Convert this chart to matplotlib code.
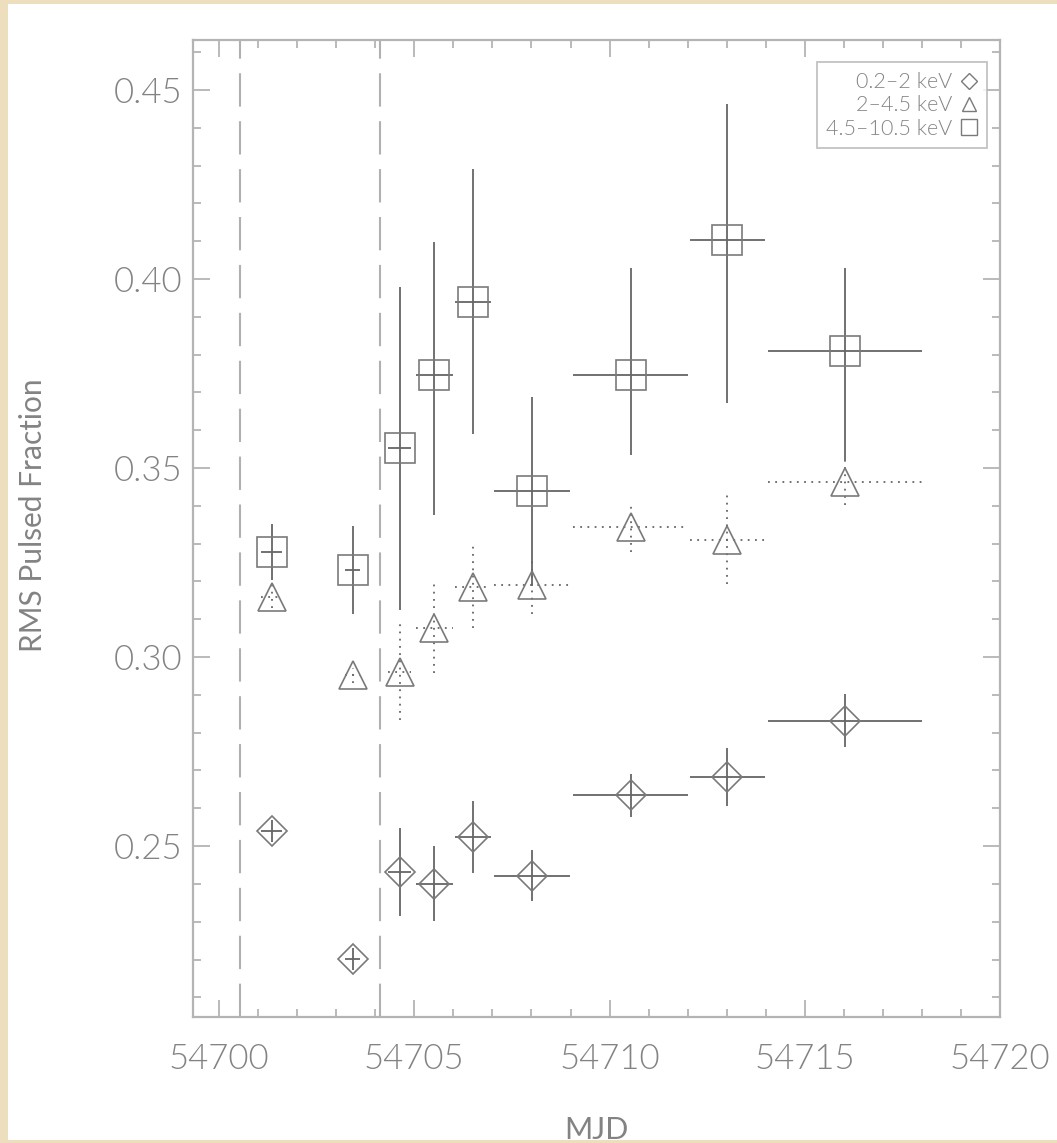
import matplotlib
matplotlib.use("Agg")
import matplotlib.pyplot as plt
from matplotlib.lines import Line2D
from matplotlib.patches import Rectangle

# ---- data ----
mjd = [54701.35, 54703.42, 54704.62, 54705.51, 54706.50, 54708.02, 54710.54, 54713.02, 54716.03]
mjd_err = [0.27, 0.20, 0.30, 0.47, 0.47, 0.97, 1.47, 0.95, 1.97]

pf_soft = [0.2540, 0.2201, 0.2432, 0.2401, 0.2525, 0.2422, 0.2635, 0.2682, 0.2832]
pf_soft_err = [0.0030, 0.0030, 0.0117, 0.0099, 0.0095, 0.0067, 0.0057, 0.0077, 0.0071]

pf_mid = [0.3160, 0.2952, 0.2961, 0.3076, 0.3186, 0.3190, 0.3343, 0.3310, 0.3462]
pf_mid_err = [0.0030, 0.0020, 0.0128, 0.0119, 0.0108, 0.0075, 0.0064, 0.0118, 0.0060]

pf_hard = [0.3278, 0.3230, 0.3553, 0.3746, 0.3940, 0.3438, 0.3746, 0.4104, 0.3810]
pf_hard_err_lo = [0.0074, 0.0116, 0.0428, 0.0370, 0.0350, 0.0250, 0.0212, 0.0433, 0.0288]
pf_hard_err_hi = [0.0074, 0.0116, 0.0426, 0.0352, 0.0352, 0.0250, 0.0283, 0.0360, 0.0220]

vlines_mjd = [54700.54, 54704.13]

band_labels = ["0.2\u20132 keV", "2\u20134.5 keV", "4.5\u201310.5 keV"]
xtick_vals = [54700, 54705, 54710, 54715, 54720]
xtick_labels = ["54700", "54705", "54710", "54715", "54720"]
ytick_vals = [0.25, 0.30, 0.35, 0.40, 0.45]
ytick_labels = ["0.25", "0.30", "0.35", "0.40", "0.45"]

# ---- style ----
FONT = ["Lato", "DejaVu Sans"]
TXT = "#838383"
AX = "#b4b4b4"
MK = "#7a7a7a"
EB = "#666666"

plt.rcParams["font.family"] = FONT
plt.rcParams["font.weight"] = 300

fig = plt.figure(figsize=(10.57, 11.43), dpi=100)
fig.patch.set_facecolor("#eddfbd")
bg = Rectangle((8 / 1057, 3 / 1143), 1 - 8 / 1057, 1 - 7 / 1143,
               transform=fig.transFigure, facecolor="white",
               edgecolor="none", zorder=-10)
fig.patches.append(bg)

ax = fig.add_axes([193 / 1057, 1 - 1017 / 1143, 807 / 1057, 977 / 1143])
ax.set_zorder(1)
ax.set_facecolor("white")
ax.set_xlim(54699.33, 54720.0)
ax.set_ylim(0.2048, 0.4632)

for v in vlines_mjd:
    ax.axvline(v, color="#b0b0b0", lw=1.5, dashes=(16, 7), zorder=1)

def draw(y, yerr, marker, ms, ls):
    c = ax.errorbar(mjd, y, xerr=mjd_err, yerr=yerr, fmt="none", ecolor=EB,
                    elinewidth=1.3, capsize=0, zorder=3)
    for lc in c.lines[2]:
        lc.set_linestyle(ls)
    ax.plot(mjd, y, linestyle="none", marker=marker, ms=ms, mfc="none",
            mec=MK, mew=1.2, zorder=4)

draw(pf_soft, pf_soft_err, "D", 14.8, "-")
draw(pf_mid, pf_mid_err, "^", 20, (0, (1, 3)))
draw(pf_hard, [pf_hard_err_lo, pf_hard_err_hi], "s", 21, "-")

for s in ax.spines.values():
    s.set_color(AX)
    s.set_linewidth(1.6)
ax.set_xticks(xtick_vals)
ax.set_xticklabels(xtick_labels)
ax.set_yticks(ytick_vals)
ax.set_yticklabels(ytick_labels)
ax.set_xticks([x for x in range(54700, 54721) if x % 5], minor=True)
ax.set_yticks([0.21, 0.22, 0.23, 0.24, 0.26, 0.27, 0.28, 0.29, 0.31, 0.32, 0.33,
               0.34, 0.36, 0.37, 0.38, 0.39, 0.41, 0.42, 0.43, 0.44, 0.46], minor=True)
ax.tick_params(which="both", direction="in", top=True, right=True, color=AX,
               width=1.3, labelcolor=TXT, labelsize=25)
ax.tick_params(which="major", length=12)
ax.tick_params(which="minor", length=6)
ax.tick_params(axis="x", pad=19)
ax.tick_params(axis="y", pad=8)

ax.set_xlabel("MJD", fontsize=22, color=TXT)
ax.xaxis.set_label_coords(0.5, -0.1157)
ax.xaxis.label.set_va("center")
ax.set_ylabel("RMS Pulsed Fraction", fontsize=21.5, color=TXT)
ax.yaxis.set_label_coords(-0.198, 0.514)
ax.yaxis.label.set_va("center")

handles = [Line2D([], [], ls="none", marker=m, ms=s, mfc="none", mec=MK, mew=1.0)
           for m, s in (("D", 8), ("^", 10), ("s", 11))]
leg = ax.legend(handles, band_labels, loc="upper right", bbox_to_anchor=(0.984, 0.977),
                borderaxespad=0, markerfirst=False, fontsize=15.5, frameon=True,
                fancybox=False, handlelength=0.8, handletextpad=0.35,
                labelspacing=0.15, borderpad=0.45)
leg.get_frame().set_edgecolor(AX)
leg.get_frame().set_linewidth(1.3)
for t in leg.get_texts():
    t.set_color(TXT)
    t.set_ha("right")

fig.savefig("out.png", dpi=100, facecolor=fig.get_facecolor())
